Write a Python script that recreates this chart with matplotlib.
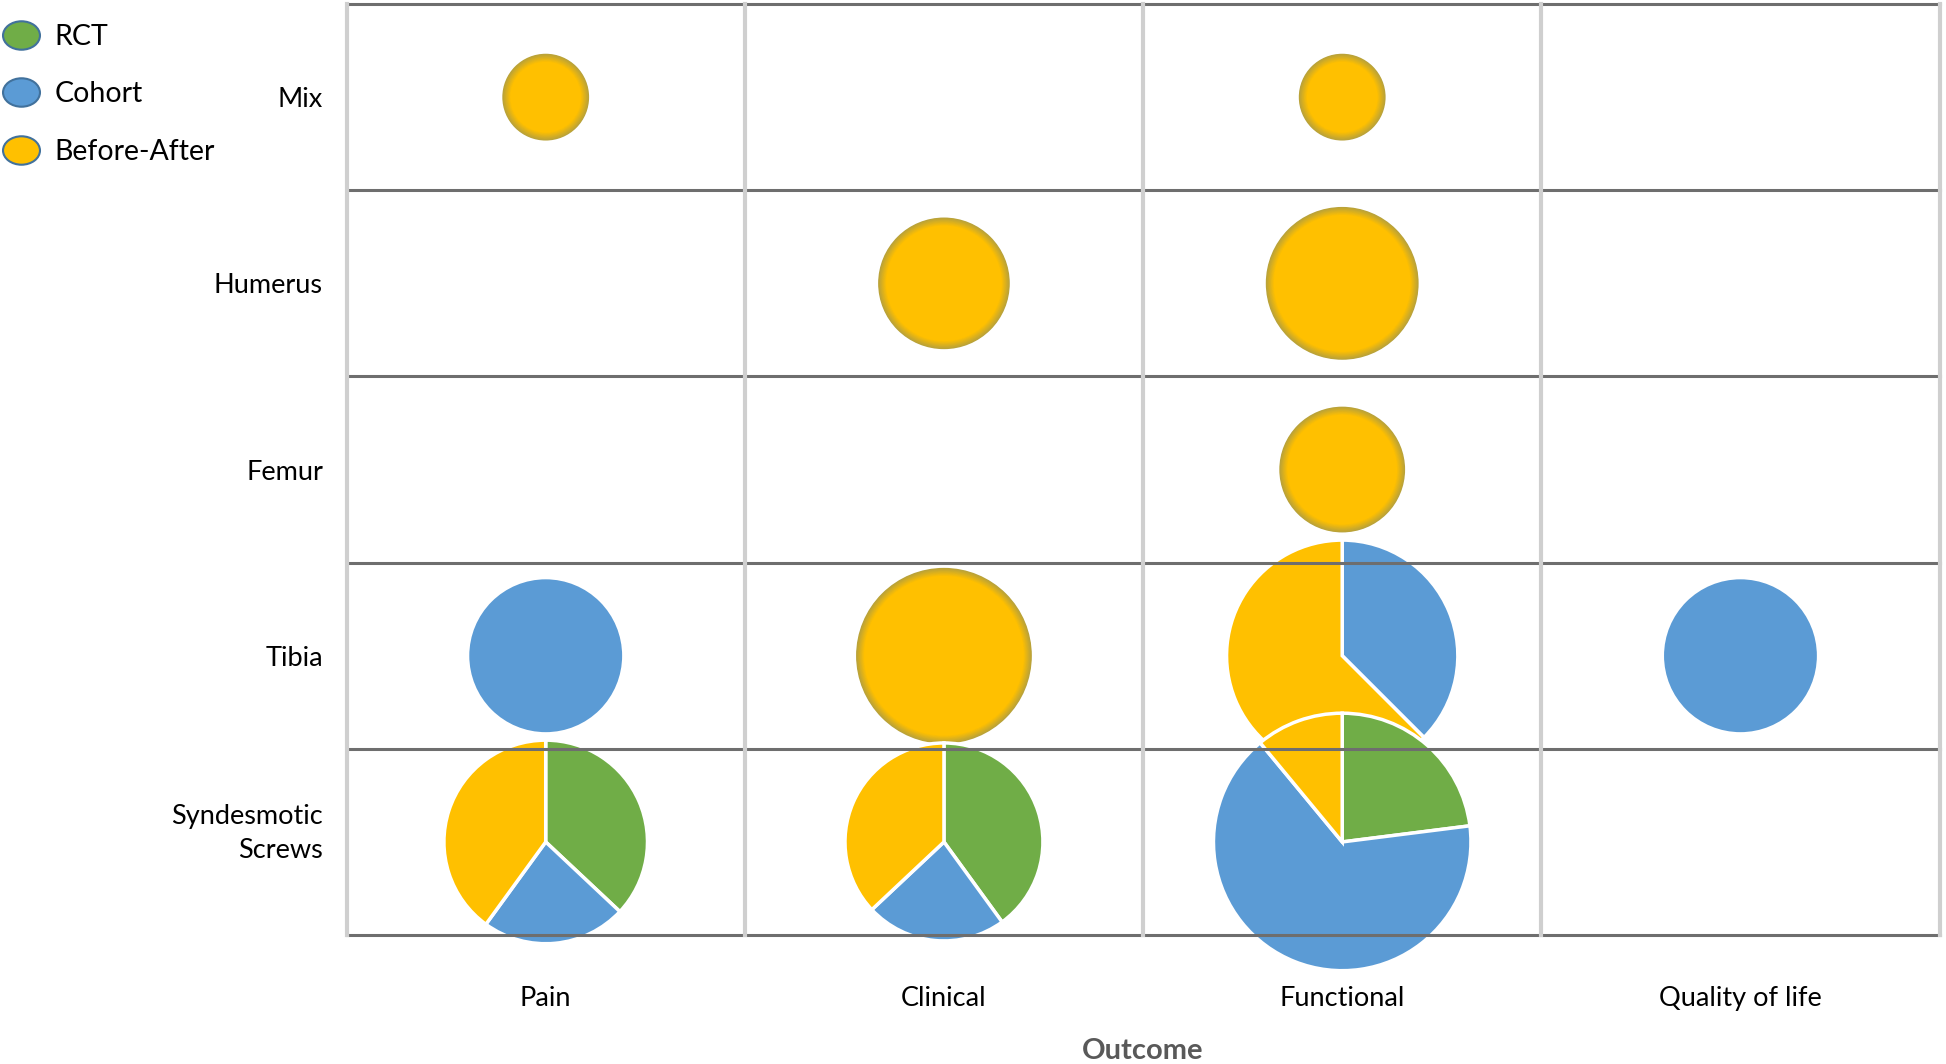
import numpy as np
import matplotlib.pyplot as plt
import matplotlib.transforms as mtransforms
from matplotlib.patches import Wedge, Circle
from matplotlib.lines import Line2D
from matplotlib.path import Path
from matplotlib.colors import to_rgb

plt.rcParams['font.family'] = ['Lato', 'DejaVu Sans']

# bones (rows, top to bottom) and outcomes (columns)
rows = ['Mix', 'Humerus', 'Femur', 'Tibia', 'Syndesmotic\nScrews']
outcomes = ['Pain', 'Clinical', 'Functional', 'Quality of life']
designs = ['RCT', 'Cohort', 'Before-After']
colors = ['#70AD47', '#5B9BD5', '#FFC000']

# one entry per filled cell
cell_row = [0, 0, 1, 1, 2, 3, 3, 3, 3, 4, 4, 4]
cell_col = [0, 2, 1, 2, 2, 0, 1, 2, 3, 0, 1, 2]
rct = [0, 0, 0, 0, 0, 0, 0, 0, 0, 0.37, 0.40, 0.23]
cohort = [0, 0, 0, 0, 0, 1, 0, 0.375, 1, 0.23, 0.23, 0.66]
before_after = [1, 1, 1, 1, 1, 0, 1, 0.625, 0, 0.40, 0.37, 0.11]
bubble = [1.0, 1.0, 2.3, 3.1, 2.1, 3.1, 4.1, 7.1, 3.1, 5.5, 5.2, 8.8]

fig = plt.figure(figsize=(19.46, 10.64), dpi=100)
ax = fig.add_axes([0.1781, 0.1212, 0.8186, 0.875])
ax.set_xlim(0, len(outcomes))
ax.set_ylim(len(rows), 0)
for s in ax.spines.values():
    s.set_visible(False)

base_r = 0.434  # inches for a bubble of size 1


def glow_circle(trans, r, z):
    # yellow disc with a soft darker rim
    edge = np.array(to_rgb('#B9A23A'))
    face = np.array(to_rgb('#FFC000'))
    n = 12
    rim = 0.08
    for i in range(n):
        t = i / (n - 1)
        c = edge * (1 - t) + face * t
        ax.add_patch(Circle((0, 0), r - rim * t, transform=trans, facecolor=c,
                            edgecolor='none', clip_on=False, zorder=z))


for k in range(len(cell_row)):
    cx = cell_col[k] + 0.5
    cy = cell_row[k] + 0.5
    trans = fig.dpi_scale_trans + mtransforms.ScaledTranslation(cx, cy, ax.transData)
    r = base_r * np.sqrt(bubble[k])
    shares = np.array([rct[k], cohort[k], before_after[k]], dtype=float)
    z = 2 + k * 0.01
    nonzero = np.nonzero(shares)[0]
    if len(nonzero) == 1:
        idx = nonzero[0]
        if idx == 2:
            glow_circle(trans, r, z)
        else:
            ax.add_patch(Circle((0, 0), r, transform=trans, facecolor=colors[idx],
                                edgecolor='none', clip_on=False, zorder=z))
        continue
    shares = shares / shares.sum()
    start = 90.0
    for j, s in enumerate(shares):
        if s <= 0:
            continue
        end = start - s * 360
        ax.add_patch(Wedge((0, 0), r, end, start, transform=trans, facecolor=colors[j],
                           edgecolor='white', linewidth=2.5, clip_on=False, zorder=z))
        start = end

# grid: dark horizontal lines, light vertical lines
for y in range(len(rows) + 1):
    ax.axhline(y, color='#6E6E6E', linewidth=2.2, zorder=5, clip_on=False)
for x in range(len(outcomes) + 1):
    ax.axvline(x, color='#CFCFCF', linewidth=3.0, zorder=6, clip_on=False)

ax.set_xticks(np.arange(len(outcomes)) + 0.5, outcomes)
ax.set_yticks(np.arange(len(rows)) + 0.5, rows)
ax.tick_params(axis='both', length=0, labelsize=19.5)
ax.tick_params(axis='y', pad=17)
ax.tick_params(axis='x', pad=37)
ax.set_xlabel('Outcome', fontsize=21, fontweight='bold', color='#595959', labelpad=19)

# the two-line label sits a little above its row centre in the reference
lab = ax.get_yticklabels()[-1]
lab.set_linespacing(1.45)
lab.set_transform(lab.get_transform() + mtransforms.ScaledTranslation(0, 15 / 100, fig.dpi_scale_trans))

ellipse = Path.unit_circle().transformed(mtransforms.Affine2D().scale(1.3, 1.0))
handles = [Line2D([], [], marker=ellipse, linestyle='none', markersize=26.6,
                  markerfacecolor=c, markeredgecolor='#41719C', markeredgewidth=1.5)
           for c in colors]
fig.legend(handles, designs, loc='upper left', bbox_to_anchor=(2 / 1946, 1 - 24 / 1064),
           frameon=False, fontsize=20.5, handlelength=1.3, handletextpad=0.55,
           labelspacing=1.1, borderpad=0, borderaxespad=0)

fig.savefig('out.png', dpi=100)
